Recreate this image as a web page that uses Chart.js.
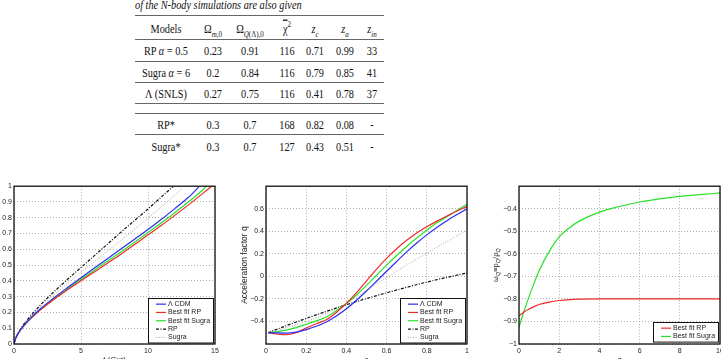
<!DOCTYPE html>
<html>
<head>
<meta charset="utf-8">
<script src="https://cdn.jsdelivr.net/npm/chart.js@4.4.0/dist/chart.umd.min.js"></script>
<style>
  html, body { margin: 0; padding: 0; background: #fff; width: 721px; height: 359px; overflow: hidden; position: relative; }
  canvas { position: absolute; }
  #tbl { position: absolute; left: 0; top: 0; width: 721px; height: 170px; font-family: "Liberation Serif", "Times New Roman", serif; font-size: 10.3px; color: #111; }
  .cell { position: absolute; transform: translate(-50%, -50%) scaleY(1.3); white-space: nowrap; line-height: normal; }
  .cap { position: absolute; left: 135px; top: 3.5px; transform: translateY(-50%) scaleY(1.3); transform-origin: left center; font-style: italic; white-space: nowrap; }
  .rule { position: absolute; left: 135px; width: 249px; height: 1px; background: #666; }
  .bar { text-decoration: overline; }
  sub, sup { font-size: 7px; line-height: 0; }
</style>
</head>
<body>
<div id="tbl"></div>
<canvas id="c1" width="247" height="186" style="left:-7px;top:180px"></canvas>
<canvas id="c2" width="240" height="186" style="left:240px;top:180px"></canvas>
<canvas id="c3" width="250" height="186" style="left:480px;top:180px"></canvas>
<script>
// ---- table ----
const models = ['RP <i>α</i> = 0.5', 'Sugra <i>α</i> = 6', 'Λ (SNLS)', 'RP*', 'Sugra*'];
const omegaM = ['0.23', '0.2', '0.27', '0.3', '0.3'];
const omegaQ = ['0.91', '0.84', '0.75', '0.7', '0.7'];
const chi2 = ['116', '116', '116', '168', '127'];
const zc = ['0.71', '0.79', '0.41', '0.82', '0.43'];
const za = ['0.99', '0.85', '0.78', '0.08', '0.51'];
const zin = ['33', '41', '37', '-', '-'];
const header = ['Models', 'Ω<sub><i>m</i>,0</sub>', 'Ω<sub><i>Q</i>(Λ),0</sub>', '<span class="bar">χ</span><sup>2</sup>',
  '<i>z<sub>c</sub></i>', '<i>z<sub>a</sub></i>', '<i>z<sub>in</sub></i>'];

// ---- chart 1: a(t) ----
const tLcdm = [0, 0.1, 0.25, 0.5, 1, 1.5, 2, 3, 4, 5, 6, 7, 8, 9, 10, 11, 12, 13, 13.85];
const aLcdm = [0, 0.03, 0.058, 0.092, 0.143, 0.186, 0.225, 0.294, 0.358, 0.42, 0.482, 0.542, 0.603, 0.664, 0.725, 0.79, 0.858, 0.928, 1.0];
const tRP = [0, 0.1, 0.25, 0.5, 1, 1.5, 2, 3, 4, 5, 6, 7, 8, 9, 10, 11, 12, 13, 14, 14.75];
const aRP = [0, 0.03, 0.057, 0.09, 0.14, 0.181, 0.218, 0.284, 0.344, 0.401, 0.457, 0.513, 0.57, 0.63, 0.692, 0.752, 0.815, 0.88, 0.948, 1.0];
const tSugra = [0, 0.1, 0.25, 0.5, 1, 1.5, 2, 3, 4, 5, 6, 7, 8, 9, 10, 11, 12, 13, 14, 14.35];
const aSugra = [0, 0.03, 0.057, 0.091, 0.141, 0.183, 0.221, 0.289, 0.35, 0.41, 0.468, 0.526, 0.585, 0.645, 0.706, 0.768, 0.832, 0.9, 0.97, 1.0];
const tRPsim = [0, 0.1, 0.25, 0.5, 1, 1.5, 2, 3, 4, 5, 6, 7, 8, 9, 10, 11, 11.9];
const aRPsim = [0, 0.031, 0.06, 0.097, 0.155, 0.203, 0.25, 0.332, 0.41, 0.485, 0.56, 0.635, 0.71, 0.783, 0.856, 0.932, 1.0];
const tSugraSim = [0, 0.1, 0.25, 0.5, 1, 1.5, 2, 3, 4, 5, 6, 7, 8, 9, 10, 11, 12, 12.6];
const aSugraSim = [0, 0.031, 0.059, 0.095, 0.15, 0.196, 0.238, 0.312, 0.384, 0.454, 0.522, 0.59, 0.658, 0.727, 0.798, 0.87, 0.943, 0.99];

// ---- chart 2: q(a) ----
const aGrid = [0.01, 0.05, 0.1, 0.15, 0.2, 0.25, 0.3, 0.35, 0.4, 0.45, 0.5, 0.55, 0.6, 0.65, 0.7, 0.75, 0.8, 0.85, 0.9, 0.95, 1.0];
const qLcdm = [-0.5, -0.502, -0.503, -0.495, -0.472, -0.443, -0.405, -0.352, -0.288, -0.212, -0.13, -0.043, 0.045, 0.132, 0.217, 0.296, 0.368, 0.434, 0.494, 0.548, 0.6];
const qRP = [-0.5, -0.51, -0.518, -0.5, -0.458, -0.42, -0.385, -0.32, -0.24, -0.145, -0.04, 0.065, 0.16, 0.245, 0.32, 0.385, 0.44, 0.49, 0.535, 0.58, 0.62];
const qSugra = [-0.5, -0.492, -0.477, -0.455, -0.425, -0.395, -0.36, -0.305, -0.24, -0.165, -0.08, 0.01, 0.1, 0.185, 0.265, 0.34, 0.41, 0.475, 0.53, 0.585, 0.64];
const aSim = [0.01, 0.1, 0.2, 0.3, 0.4, 0.5, 0.6, 0.7, 0.8, 0.9, 1.0];
const qRPsim = [-0.5, -0.438, -0.373, -0.311, -0.252, -0.197, -0.146, -0.097, -0.051, -0.009, 0.03];
const qSugraSim = [-0.5, -0.455, -0.4, -0.33, -0.24, -0.125, -0.01, 0.1, 0.205, 0.31, 0.41];

// ---- chart 3: w(z) ----
const zGrid = [0, 0.25, 0.5, 0.75, 1, 1.5, 2, 2.5, 3, 4, 5, 6, 7, 8, 9, 10];
const wRP = [-0.875, -0.858, -0.845, -0.834, -0.825, -0.814, -0.807, -0.803, -0.801, -0.8, -0.8, -0.8, -0.8, -0.8, -0.8, -0.8];
const wSugra = [-0.925, -0.855, -0.79, -0.73, -0.675, -0.59, -0.525, -0.485, -0.455, -0.415, -0.39, -0.37, -0.356, -0.345, -0.337, -0.33];

// build the table
const tbl = document.getElementById('tbl');
const colX = [166, 213, 250, 287, 315, 345, 372];
const rowY = [50, 72, 93, 124, 146];
const ruleY = [15, 39, 61, 82, 103, 113, 134];
function addCell(html, x, y) {
  const d = document.createElement('div');
  d.className = 'cell';
  d.style.left = x + 'px';
  d.style.top = y + 'px';
  d.innerHTML = html;
  tbl.appendChild(d);
}
const cap = document.createElement('div');
cap.className = 'cap';
cap.textContent = 'of the N-body simulations are also given';
tbl.appendChild(cap);
ruleY.forEach(y => {
  const r = document.createElement('div');
  r.className = 'rule';
  r.style.top = y + 'px';
  tbl.appendChild(r);
});
header.forEach((h, i) => addCell(h, colX[i], 28));
models.forEach((m, r) => {
  [m, omegaM[r], omegaQ[r], chi2[r], zc[r], za[r], zin[r]].forEach((v, i) => addCell(v, colX[i], rowY[r]));
});

// helpers
const pts = (xs, ys) => xs.map((x, i) => ({x: x, y: ys[i]}));
const FONT = "'Liberation Sans', Arial, sans-serif";
const BLUE = '#2b2bf2', RED = '#ee2b2b', GREEN = '#28e028';

function fmt(v) {
  const r = Math.round(v * 10) / 10;
  return r < 0 ? '\u2212' + Math.abs(r) : String(r);
}

function line(label, data, color, extra) {
  return Object.assign({
    label: label, data: data, borderColor: color, backgroundColor: color,
    borderWidth: 1.2, pointRadius: 0, fill: false, cubicInterpolationMode: 'monotone'
  }, extra || {});
}

// black frame round the plot area
const frame = {
  id: 'frame',
  afterDraw(chart) {
    const {ctx, chartArea: a} = chart;
    ctx.save();
    ctx.strokeStyle = '#111';
    ctx.lineWidth = 1.3;
    ctx.strokeRect(a.left, a.top, a.right - a.left, a.bottom - a.top);
    ctx.restore();
  }
};

// matplotlib style legend inside the lower right corner
const boxLegend = {
  id: 'boxLegend',
  afterDraw(chart) {
    const {ctx, chartArea} = chart;
    const sets = chart.data.datasets;
    const rowH = 8.3;
    ctx.save();
    ctx.font = '7px ' + FONT;
    const tw = Math.max(...sets.map(d => ctx.measureText(d.label).width));
    const w = 8 + 10 + 2 + tw + 3;
    const h = sets.length * rowH + 3;
    const x = Math.round(chartArea.right - 2 - w);
    const y = Math.round(chartArea.bottom - 2 - h);
    ctx.fillStyle = '#fff';
    ctx.fillRect(x, y, w, h);
    ctx.strokeStyle = '#111';
    ctx.lineWidth = 1;
    ctx.strokeRect(x + 0.5, y + 0.5, w, h);
    sets.forEach((d, i) => {
      const cy = y + 2 + rowH * (i + 0.5);
      ctx.strokeStyle = d.borderColor;
      ctx.lineWidth = d.borderWidth;
      ctx.setLineDash(d.borderDash || []);
      ctx.beginPath();
      ctx.moveTo(x + 8, cy);
      ctx.lineTo(x + 18, cy);
      ctx.stroke();
      ctx.setLineDash([]);
      ctx.fillStyle = '#222';
      ctx.textBaseline = 'middle';
      ctx.fillText(d.label, x + 20, cy);
    });
    ctx.restore();
  }
};

// y title with subscripts for the third panel
const richTitle = {
  id: 'richTitle',
  afterDraw(chart, args, opts) {
    if (!opts.parts) return;
    const {ctx, chartArea} = chart;
    ctx.save();
    ctx.translate(chartArea.left - opts.offset, (chartArea.top + chartArea.bottom) / 2);
    ctx.rotate(-Math.PI / 2);
    ctx.fillStyle = '#222';
    ctx.textBaseline = 'alphabetic';
    let total = 0;
    opts.parts.forEach(p => { ctx.font = p[1] + 'px ' + FONT; total += ctx.measureText(p[0]).width; });
    let x = -total / 2;
    opts.parts.forEach(p => {
      ctx.font = p[1] + 'px ' + FONT;
      ctx.fillText(p[0], x, 3 + p[2]);
      x += ctx.measureText(p[0]).width;
    });
    ctx.restore();
  }
};

function axes(o) {
  const tickFont = {family: FONT, size: 7};
  return {
    x: {
      type: 'linear', min: o.xmin, max: o.xmax,
      afterFit(s) { s.height = 22; },
      ticks: {stepSize: o.xstep, color: '#222', font: tickFont, padding: 3, maxRotation: 0, autoSkip: false,
        callback: v => fmt(v)},
      grid: {color: '#9a9a9a', lineWidth: 0.8, drawTicks: false},
      border: {display: false, dash: [1, 2]},
      title: {display: true, text: o.xtitle, color: '#222', font: {family: FONT, size: 8}, padding: {top: 0, bottom: 1}}
    },
    y: {
      type: 'linear', min: o.ymin, max: o.ymax,
      afterFit(s) { s.width = o.yw; },
      ticks: {stepSize: o.ystep, color: '#222', font: tickFont, padding: 2, autoSkip: false,
        callback: v => (o.hide && o.hide.includes(Math.round(v * 10) / 10)) ? '' : fmt(v)},
      grid: {color: '#9a9a9a', lineWidth: 0.8, drawTicks: false},
      border: {display: false, dash: [1, 2]},
      title: {display: !!o.ytitle, text: o.ytitle, color: '#222', font: {family: FONT, size: 8.5}, padding: {top: o.ytpad || 0, bottom: 0}}
    }
  };
}

function makeChart(id, datasets, scaleOpts, pad, rich) {
  return new Chart(document.getElementById(id), {
    type: 'line',
    data: {datasets: datasets},
    options: {
      responsive: false, animation: false, events: [],
      layout: {padding: pad},
      scales: axes(scaleOpts),
      plugins: {legend: {display: false}, tooltip: {enabled: false}, richTitle: rich || {}}
    },
    plugins: [frame, boxLegend, richTitle]
  });
}

makeChart('c1', [
  line('\u039b CDM', pts(tLcdm, aLcdm), BLUE),
  line('Best fit RP', pts(tRP, aRP), RED),
  line('Best fit Sugra', pts(tSugra, aSugra), GREEN),
  line('RP', pts(tRPsim, aRPsim), '#111', {borderDash: [3, 1.5, 1, 1.5]}),
  line('Sugra', pts(tSugraSim, aSugraSim), '#aaa', {borderDash: [1, 1.5], borderWidth: 1})
], {xmin: 0, xmax: 15, xstep: 5, ymin: 0, ymax: 1, ystep: 0.1, yw: 21, xtitle: 't (Gyr)', ytitle: 'a', ytpad: 0},
  {top: 6, right: 25, left: 0, bottom: 0});

makeChart('c2', [
  line('\u039b CDM', pts(aGrid, qLcdm), BLUE),
  line('Best fit RP', pts(aGrid, qRP), RED),
  line('Best fit Sugra', pts(aGrid, qSugra), GREEN),
  line('RP', pts(aSim, qRPsim), '#111', {borderDash: [3, 1.5, 1, 1.5]}),
  line('Sugra', pts(aSim, qSugraSim), '#aaa', {borderDash: [1, 1.5], borderWidth: 1})
], {xmin: 0, xmax: 1, xstep: 0.2, ymin: -0.6, ymax: 0.8, ystep: 0.2, yw: 26, xtitle: 'a',
  ytitle: 'Acceleration factor q', hide: [-0.6, 0.8]},
  {top: 6, right: 13, left: 0, bottom: 0});

makeChart('c3', [
  line('Best fit RP', pts(zGrid, wRP), RED),
  line('Best fit Sugra', pts(zGrid, wSugra), GREEN)
], {xmin: 0, xmax: 10, xstep: 2, ymin: -1, ymax: -0.3, ystep: 0.1, yw: 39, xtitle: 'z', hide: [-0.3]},
  {top: 6, right: 10, left: 0, bottom: 0},
  {offset: 24, parts: [['\u03c9', 7.5, 0], ['Q', 5.5, 1.5], ['\u2261', 7.5, 0], ['p', 7.5, 0], ['Q', 5.5, 1.5], ['/', 7.5, 0], ['\u03c1', 7.5, 0], ['Q', 5.5, 1.5]]});
</script>
</body>
</html>
